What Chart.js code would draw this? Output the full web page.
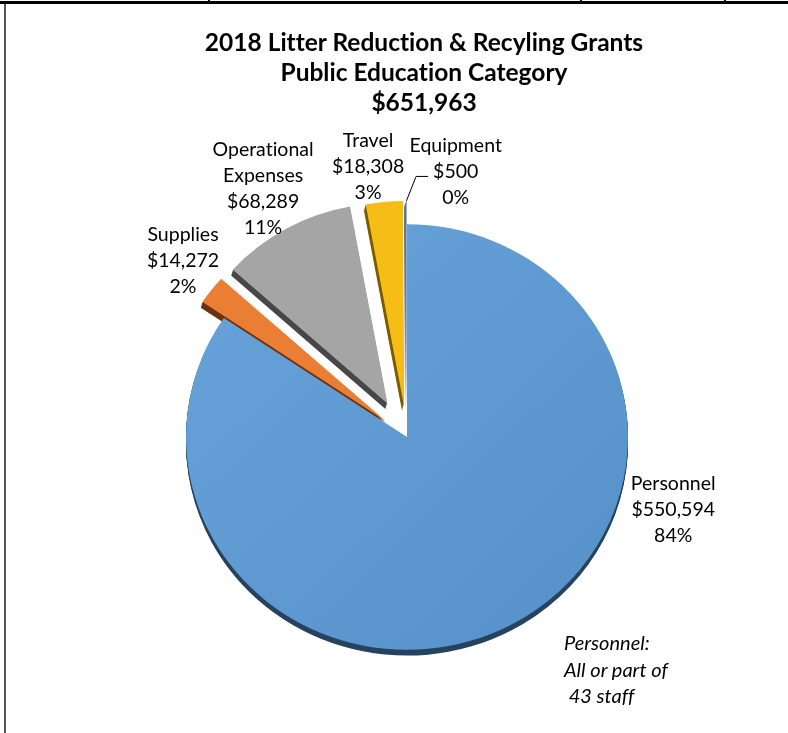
<!DOCTYPE html>
<html lang="en">
<head>
<meta charset="utf-8">
<title>2018 Litter Reduction &amp; Recyling Grants</title>
<script src="https://cdn.jsdelivr.net/npm/chart.js@4.4.1/dist/chart.umd.min.js"></script>
<style>
    html, body { margin: 0; padding: 0; background: #fff; }
    #marco { position: relative; width: 788px; height: 733px; overflow: hidden; font-family: Lato, 'Open Sans', sans-serif; color: #000; font-variant-ligatures: none; }
    #grafica { position: absolute; left: 0; top: 0; }
    .borde-sup { position: absolute; left: 0; top: 1px; width: 788px; height: 3px; background: #000; }
    .borde-izq { position: absolute; left: 4px; top: 4px; width: 2px; height: 729px; background: #555; }
    .corte { position: absolute; top: 0; width: 2px; height: 2px; background: #000; }
    #titulo { position: absolute; left: 124px; top: 27px; width: 600px; text-align: center; font-weight: bold; font-size: 24.5px; line-height: 30px; }
    #nota { position: absolute; left: 564px; top: 629px; font-style: italic; font-size: 20px; line-height: 26.5px; white-space: pre; }
</style>
</head>
<body>
<div id="marco">
    <canvas id="grafica" width="788" height="733"></canvas>
    <div class="borde-sup"></div>
    <div class="borde-izq"></div>
    <div class="corte" style="left:208px"></div>
    <div class="corte" style="left:580px"></div>
    <div class="corte" style="left:724px"></div>
    <div id="titulo">
        <div>2018 Litter Reduction &amp; Recyling Grants</div>
        <div>Public Education Category</div>
        <div id="total"></div>
    </div>
    <div id="nota">Personnel:
All or part of
 43 staff</div>
</div>
<script>
// Datos del gráfico
const categorias = ['Personnel', 'Supplies', ['Operational', 'Expenses'], 'Travel', 'Equipment'];
const montos = [550594, 14272, 68289, 18308, 500];

// Estilo de cada porción
const colores = ['#5B9BD5', '#EB7E35', '#A5A5A5', '#F5BD15', '#9DB4D8'];
const coloresLado = ['#27425E', '#6A3210', '#474747', '#7A5C00', '#5A7099'];
const separacion = [0, 27, 40, 33, 33];          // px que se aleja cada porción del centro
const escalaRadio = [1, 1, 0.94, 0.96, 0.96];
// rótulos: ángulo (grados desde las 12, sentido horario) y distancia al centro
const rotuloAngulo = [105.3, 308.2, 329.9, 351.8, 10.4];
const rotuloDist = [276, 285, 287, 273, 270];

const RADIO = 221;
const INCLINACION = 0.963;   // achatamiento vertical para simular 3D
const PROFUNDIDAD = 6;
const INTERLINEA = 26;

const total = montos.reduce((a, b) => a + b, 0);
document.getElementById('total').textContent = '$' + total.toLocaleString('en-US');

// porcentajes enteros que suman 100 (mayor resto)
function porcentajes(valores) {
    const suma = valores.reduce((a, b) => a + b, 0);
    const crudos = valores.map(v => v / suma * 100);
    const base = crudos.map(Math.floor);
    const faltan = 100 - base.reduce((a, b) => a + b, 0);
    const orden = crudos.map((c, i) => [c - base[i], i]).sort((a, b) => b[0] - a[0]);
    for (let k = 0; k < faltan; k++) base[orden[k][1]]++;
    return base;
}
const pct = porcentajes(montos);

function centro(chart) {
    const a = chart.chartArea;
    return { cx: (a.left + a.right) / 2, cy: (a.top + a.bottom) / 2 };
}

const pastel3D = {
    id: 'pastel3D',
    afterDatasetUpdate(chart) {
        chart.getDatasetMeta(0).data.forEach((arco, i) => {
            const medio = (arco.startAngle + arco.endAngle) / 2;
            arco.x += Math.cos(medio) * separacion[i];
            arco.y += Math.sin(medio) * separacion[i];
            arco.outerRadius *= escalaRadio[i];
        });
    },
    beforeDatasetsDraw(chart) {
        const ctx = chart.ctx;
        const { cx, cy } = centro(chart);
        ctx.save();
        ctx.translate(cx, cy);
        ctx.scale(1, INCLINACION);
        ctx.translate(-cx, -cy);
        // cara lateral oscura debajo de cada porción
        chart.getDatasetMeta(0).data.forEach((arco, i) => {
            const opciones = arco.options;
            arco.options = Object.assign({}, opciones, {
                backgroundColor: coloresLado[i], borderColor: coloresLado[i], borderWidth: 0
            });
            const dx = i === 0 ? 0 : -0.3;
            for (let d = 1; d <= PROFUNDIDAD; d++) {
                ctx.save();
                ctx.translate(dx * d, d);
                arco.draw(ctx);
                ctx.restore();
            }
            arco.options = opciones;
        });
    },
    afterDatasetsDraw(chart) {
        chart.ctx.restore();
    },
    afterDraw(chart) {
        const ctx = chart.ctx;
        const { cx, cy } = centro(chart);
        const etiquetas = chart.data.labels;
        const valores = chart.data.datasets[0].data;
        ctx.save();
        ctx.font = '19.5px Lato';
        ctx.textRendering = 'optimizeSpeed';   // sin ligaduras
        ctx.fillStyle = '#000';
        ctx.textAlign = 'center';
        ctx.textBaseline = 'middle';
        const lineasPorRotulo = [];
        etiquetas.forEach((et, i) => {
            const lineas = [].concat(et, '$' + valores[i].toLocaleString('en-US'), pct[i] + '%');
            const ang = rotuloAngulo[i] * Math.PI / 180;
            const x = cx + Math.sin(ang) * rotuloDist[i];
            const y0 = cy - Math.cos(ang) * rotuloDist[i] - (lineas.length - 1) * INTERLINEA / 2;
            lineas.forEach((t, k) => ctx.fillText(t, x, y0 + k * INTERLINEA));
            lineasPorRotulo.push({ x, y0, lineas });
        });

        // línea guía de Equipment
        const i = 4;
        const arco = chart.getDatasetMeta(0).data[i];
        const medio = (arco.startAngle + arco.endAngle) / 2;
        const px = arco.x + Math.cos(medio) * arco.outerRadius;
        const py = cy + (arco.y + Math.sin(medio) * arco.outerRadius - cy) * INCLINACION;
        const r = lineasPorRotulo[i];
        const ancho = ctx.measureText(r.lineas[1]).width;
        const fx = r.x - ancho / 2 - 5;
        const fy = r.y0 + INTERLINEA + 5;
        ctx.strokeStyle = '#000';
        ctx.lineWidth = 1;
        ctx.beginPath();
        ctx.moveTo(px, py);
        ctx.lineTo(fx - 12, fy);
        ctx.lineTo(fx, fy);
        ctx.stroke();
        ctx.restore();
    }
};

const ctx = document.getElementById('grafica').getContext('2d');

let chart = new Chart(ctx, {
    type: 'pie',
    data: {
        labels: categorias,
        datasets: [{
            data: montos,
            backgroundColor: (c) => {
                if (c.dataIndex !== 0 || !c.chart.chartArea) return colores[c.dataIndex];
                // degradado suave en la porción grande
                const { cx, cy } = centro(c.chart);
                const g = c.chart.ctx.createLinearGradient(cx - RADIO, cy - RADIO, cx + RADIO, cy + RADIO);
                g.addColorStop(0, '#68A3DA');
                g.addColorStop(1, '#5590C8');
                return g;
            },
            borderWidth: 0,
            clip: false
        }]
    },
    options: {
        responsive: false,
        animation: false,
        events: [],
        radius: RADIO,
        layout: { padding: { left: 26, top: 141, right: 0, bottom: 0 } },
        plugins: {
            legend: { display: false },
            tooltip: { enabled: false },
            title: { display: false }
        }
    },
    plugins: [pastel3D]
});
</script>
</body>
</html>
